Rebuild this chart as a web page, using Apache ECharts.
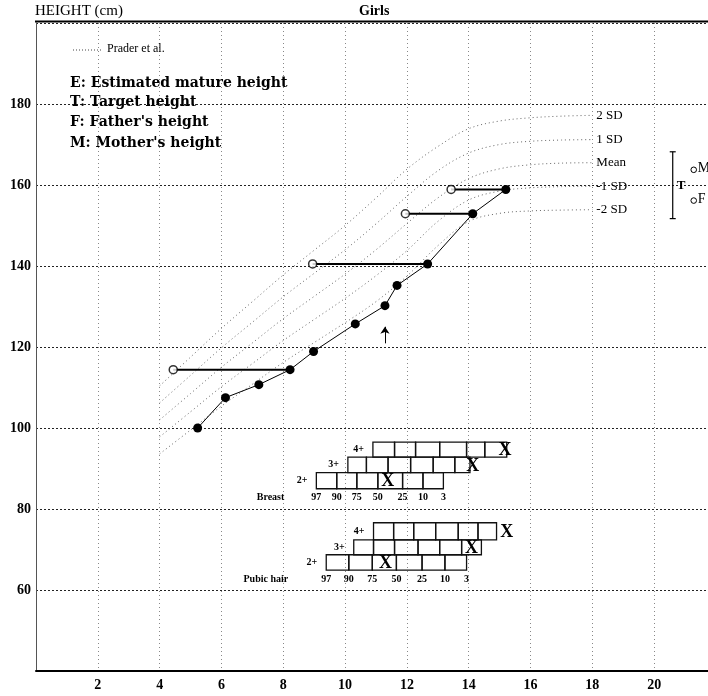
<!DOCTYPE html>
<html><head><meta charset="utf-8">
<script src="https://cdn.jsdelivr.net/npm/echarts@6/dist/echarts.min.js"></script>
<style>html,body{margin:0;padding:0;background:#fff;}#c{width:708px;height:696px;}</style>
</head><body><div id="c"></div>
<script>
// ---------- DATA ----------
const xTickValues = [2, 4, 6, 8, 10, 12, 14, 16, 18, 20];
const yTickValues = [60, 80, 100, 120, 140, 160, 180];

// patient: chronological age (years) and height (cm)
const ages    = [5.23, 6.13, 7.21, 8.22, 8.98, 10.33, 11.29, 11.68, 12.67, 14.13, 15.2];
const heights = [100, 107.5, 110.7, 114.4, 118.9, 125.7, 130.2, 135.2, 140.5, 152.9, 158.9];
// bone ages (open circles) and the patient point each one is linked to
const boneAges    = [4.44, 8.95, 11.95, 13.43];
const boneHeights = [114.4, 140.5, 152.9, 158.9];
const boneLinkIdx = [3, 8, 9, 10];
// small arrow (menarche mark)
const arrowAge = 11.29;
const arrowFrom = 120.9, arrowTo = 125.0;

// Prader et al. reference curves
const praderAges  = [4, 5, 6, 7, 8, 9, 10, 11, 12, 13, 14, 15, 16, 17, 18];
const praderPlus2 = [110.4, 117.5, 124.6, 131.2, 137.8, 143.9, 150, 156.8, 163.9, 169.5, 173.9, 175.8, 176.6, 177, 177.2];
const praderPlus1 = [106.2, 113, 119.8, 126.1, 132.4, 138.2, 144, 150.4, 157.2, 163.5, 167.9, 170, 170.8, 171.1, 171.2];
const praderMean  = [102, 108.5, 115, 121, 127, 132.5, 138, 144, 150.5, 156.8, 161.6, 164, 165, 165.4, 165.5];
const praderMinus1= [97.8, 104, 110.2, 115.9, 121.6, 126.8, 132, 137.6, 143.8, 151, 156.3, 158.5, 159.3, 159.6, 159.7];
const praderMinus2= [93.6, 99.5, 105.4, 110.8, 116.2, 121.1, 126, 131.2, 137.5, 145, 151, 153, 153.6, 153.8, 153.9];
const sdLabels = ['2 SD', '1 SD', 'Mean', '-1 SD', '-2 SD'];

// puberty stage norms: ages at percentiles 97..3
const percentileLabels = ['97', '90', '75', '50', '25', '10', '3'];
const stageLabels = ['2+', '3+', '4+'];
const breast2 = [9.07, 9.73, 10.38, 11.06, 11.86, 12.52, 13.18];
const breast3 = [10.09, 10.69, 11.39, 12.12, 12.85, 13.55, 14.04];
const breast4 = [10.9, 11.6, 12.28, 13.06, 13.93, 14.52, 15.23];
const pubic2  = [9.39, 10.12, 10.88, 11.66, 12.49, 13.23, 13.93];
const pubic3  = [10.28, 10.92, 11.6, 12.36, 13.06, 13.77, 14.41];
const pubic4  = [10.92, 11.57, 12.22, 12.93, 13.66, 14.3, 14.9];
// ages at which a stage was observed (X marks) for stages 2+,3+,4+
const breastMarks = [11.38, 14.13, 15.17];
const pubicMarks  = [11.31, 14.09, 15.23];

// target height
const targetRange  = [151.7, 168.2];
const targetHeight = 159.8;
const motherHeight = 164.0;
const fatherHeight = 156.4;

// ---------- CHART ----------
const SERIF = 'Liberation Serif, Times New Roman, serif';
const HEAVY = 'DejaVu Serif, Liberation Serif, serif';
const chart = echarts.init(document.getElementById('c'), null, {renderer: 'canvas'});

const praderSets = [praderPlus2, praderPlus1, praderMean, praderMinus1, praderMinus2];
const praderSeries = praderSets.map((arr, i) => ({
  type: 'line', name: sdLabels[i], smooth: 0.35, symbol: 'none', silent: true, z: 2,
  data: praderAges.map((a, k) => [a, arr[k]]),
  lineStyle: {color: '#666', width: 1, type: [1, 3]},
  endLabel: {show: true, formatter: sdLabels[i], color: '#000', fontFamily: SERIF, fontSize: 13, distance: 4}
}));

// bone-age link lines
const linkSeries = boneAges.map((b, i) => ({
  type: 'line', symbol: 'none', silent: true, z: 4,
  data: [[b, boneHeights[i]], [ages[boneLinkIdx[i]], heights[boneLinkIdx[i]]]],
  lineStyle: {color: '#000', width: 2}
}));

function pubertyRenderer(rowBounds, rowsCm, marks, groupName, groupRightOffset) {
  return function (params, api) {
    const i = params.dataIndex;
    const b = rowBounds[i];
    const yT = api.coord([0, rowsCm[i][0]])[1];
    const yB = api.coord([0, rowsCm[i][1]])[1];
    const ch = [];
    for (let k = 0; k < b.length - 1; k++) {
      const x0 = api.coord([b[k], 0])[0], x1 = api.coord([b[k + 1], 0])[0];
      ch.push({type: 'rect', shape: {x: x0, y: yT, width: x1 - x0, height: yB - yT},
        style: {fill: 'none', stroke: '#111', lineWidth: 1.3}});
    }
    const xs = api.coord([b[0], 0])[0];
    ch.push({type: 'text', style: {text: stageLabels[i], x: xs - 9, y: (yT + yB) / 2, align: 'right', verticalAlign: 'middle',
      font: 'bold 10px ' + SERIF, fill: '#000'}});
    const xm = api.coord([marks[i], 0])[0];
    ch.push({type: 'text', style: {text: 'X', x: xm, y: (yT + yB) / 2 + 1, align: 'center', verticalAlign: 'middle',
      font: 'bold 18px ' + SERIF, fill: '#000'}});
    if (i === 0) {
      b.forEach((v, k) => {
        ch.push({type: 'text', style: {text: percentileLabels[k], x: api.coord([v, 0])[0], y: yB + 9, align: 'center',
          verticalAlign: 'middle', font: 'bold 10px ' + SERIF, fill: '#000'}});
      });
      ch.push({type: 'text', style: {text: groupName, x: xs - groupRightOffset, y: yB + 9, align: 'right',
        verticalAlign: 'middle', font: 'bold 10px ' + SERIF, fill: '#000'}});
    }
    return {type: 'group', children: ch};
  };
}
const breastRows = [[89.0, 85.0], [92.8, 89.0], [96.5, 92.8]];
const pubicRows  = [[68.7, 64.9], [72.4, 68.7], [76.6, 72.4]];
const breastBounds = [breast2, breast3, breast4];
const pubicBounds = [pubic2, pubic3, pubic4];

const option = {
  animation: false,
  backgroundColor: '#fff',
  grid: {left: 36, top: 23, width: 680, height: 648, containLabel: false, outerBoundsMode: 'none'},
  xAxis: {
    type: 'value', min: 0, max: 22, interval: 2,
    axisLine: {show: true, onZero: false, lineStyle: {color: '#000', width: 2}},
    axisTick: {show: false},
    axisLabel: {formatter: v => (v === 0 || v === 22) ? '' : String(v), color: '#000', fontFamily: SERIF,
      fontWeight: 'bold', fontSize: 14, margin: 7},
    splitLine: {show: true, lineStyle: {color: '#888', width: 1, type: [1, 3]}}
  },
  yAxis: {
    type: 'value', min: 40, max: 200, interval: 20,
    axisLine: {show: true, lineStyle: {color: '#555', width: 1}},
    axisTick: {show: false},
    axisLabel: {formatter: v => (v === 40 || v === 200) ? '' : String(v), color: '#000', fontFamily: SERIF,
      fontWeight: 'bold', fontSize: 14, margin: 5},
    splitLine: {show: true, lineStyle: {color: '#222', width: 1, type: [2, 2]}}
  },
  graphic: [
    {type: 'line', shape: {x1: 35, y1: 21.5, x2: 708, y2: 21.5}, style: {stroke: '#000', lineWidth: 2}, z: 100},
    {type: 'text', left: 35, top: 4, style: {text: 'HEIGHT (cm)', font: '15px ' + SERIF, fill: '#000'}, z: 100},
    {type: 'text', left: 359, top: 4, style: {text: 'Girls', font: 'bold 14px ' + SERIF, fill: '#000'}, z: 100},
    {type: 'line', shape: {x1: 73, y1: 50, x2: 103, y2: 50}, style: {stroke: '#444', lineWidth: 1, lineDash: [1, 2]}, z: 100},
    {type: 'text', left: 107, top: 43, style: {text: 'Prader et al.', font: '12px ' + SERIF, fill: '#000'}, z: 100},
    {type: 'text', left: 70, top: 76, style: {text: 'E: Estimated mature height', font: 'bold 14px ' + HEAVY, fill: '#000'}, z: 100},
    {type: 'text', left: 70, top: 95, style: {text: 'T: Target height', font: 'bold 14px ' + HEAVY, fill: '#000'}, z: 100},
    {type: 'text', left: 70, top: 115, style: {text: "F: Father's height", font: 'bold 14px ' + HEAVY, fill: '#000'}, z: 100},
    {type: 'text', left: 70, top: 136, style: {text: "M: Mother's height", font: 'bold 14px ' + HEAVY, fill: '#000'}, z: 100}
  ],
  series: [
    ...praderSeries,
    ...linkSeries,
    {
      type: 'line', name: 'patient', z: 5, silent: true,
      data: ages.map((a, i) => [a, heights[i]]),
      symbol: 'circle', symbolSize: 9,
      itemStyle: {color: '#000'},
      lineStyle: {color: '#000', width: 1},
      markLine: {
        silent: true, symbol: ['none', 'arrow'], symbolSize: 7,
        label: {show: false},
        lineStyle: {color: '#000', width: 1, type: 'solid'},
        data: [[{coord: [arrowAge, arrowFrom]}, {coord: [arrowAge, arrowTo]}]]
      }
    },
    {
      type: 'scatter', name: 'bone age', z: 6, silent: true,
      data: boneAges.map((b, i) => [b, boneHeights[i]]),
      symbol: 'circle', symbolSize: 8,
      itemStyle: {color: '#fff', borderColor: '#000', borderWidth: 1.5}
    },
    {
      type: 'custom', silent: true, z: 3,
      data: breastBounds.map((b, i) => [b[0], breastRows[i][0]]),
      renderItem: pubertyRenderer(breastBounds, breastRows, breastMarks, 'Breast', 32)
    },
    {
      type: 'custom', silent: true, z: 3,
      data: pubicBounds.map((b, i) => [b[0], pubicRows[i][0]]),
      renderItem: pubertyRenderer(pubicBounds, pubicRows, pubicMarks, 'Pubic hair', 38)
    },
    {
      type: 'custom', silent: true, z: 6,
      data: [[20.6, targetHeight]],
      renderItem: function (params, api) {
        const x = api.coord([20.6, 0])[0];
        const yTop = api.coord([0, targetRange[1]])[1];
        const yBot = api.coord([0, targetRange[0]])[1];
        const yT = api.coord([0, targetHeight])[1];
        const yM = api.coord([0, motherHeight])[1];
        const yF = api.coord([0, fatherHeight])[1];
        const s = {stroke: '#000', lineWidth: 1.2};
        return {type: 'group', children: [
          {type: 'line', shape: {x1: x, y1: yTop, x2: x, y2: yBot}, style: s},
          {type: 'line', shape: {x1: x - 3, y1: yTop, x2: x + 3, y2: yTop}, style: s},
          {type: 'line', shape: {x1: x - 3, y1: yBot, x2: x + 3, y2: yBot}, style: s},
          {type: 'text', style: {text: 'T', x: x + 4, y: yT, verticalAlign: 'middle', font: 'bold 13px ' + SERIF, fill: '#000'}},
          {type: 'circle', shape: {cx: x + 21, cy: yM + 1, r: 2.8}, style: {fill: '#fff', stroke: '#000', lineWidth: 1}},
          {type: 'text', style: {text: 'M', x: x + 25, y: yM, verticalAlign: 'middle', font: '14px ' + SERIF, fill: '#000'}},
          {type: 'circle', shape: {cx: x + 21, cy: yF + 1, r: 2.8}, style: {fill: '#fff', stroke: '#000', lineWidth: 1}},
          {type: 'text', style: {text: 'F', x: x + 25, y: yF, verticalAlign: 'middle', font: '14px ' + SERIF, fill: '#000'}}
        ]};
      }
    }
  ]
};
chart.setOption(option);
</script>
</body></html>
